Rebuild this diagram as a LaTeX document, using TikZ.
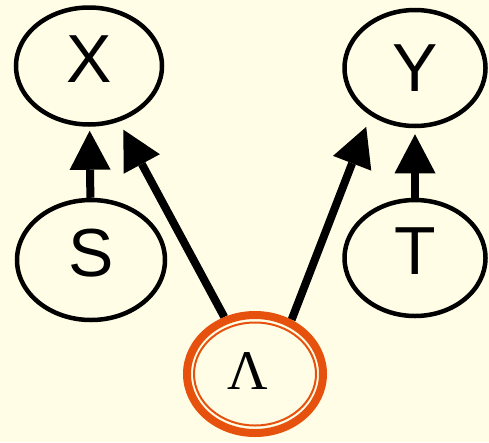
\documentclass[tikz,border=0pt]{standalone}
\usepackage{fontspec}
\setmainfont{Liberation Sans}
\newfontfamily\grfont{Liberation Serif}
\usetikzlibrary{shapes.geometric,arrows.meta}
\definecolor{bg}{RGB}{255,253,230}
\definecolor{ringc}{RGB}{230,82,14}
\pgfdeclarelayer{background}
\pgfsetlayers{background,main}
\begin{document}
\begin{tikzpicture}[x=1pt,y=-1pt,
  var/.style={ellipse, draw=black, line width=4.5pt, inner sep=0pt,
    font=\fontsize{68}{68}\selectfont, text depth=14pt},
  ringout/.style={ellipse, draw=ringc, line width=8pt, inner sep=0pt,
    minimum width=136pt, minimum height=118pt},
  ringin/.style={ellipse, draw=ringc, line width=2pt, inner sep=0pt,
    minimum width=122pt, minimum height=103pt,
    font=\grfont\fontsize{56}{56}\selectfont, text depth=5pt},
  arr/.style={line width=8pt, -{Triangle[length=39pt,width=41pt,line width=0pt]}},
]
\useasboundingbox (0,0) rectangle (489,442);
\node[var, minimum width=146pt, minimum height=117pt] (X) at (89,66) {X};
\node[var, minimum width=141pt, minimum height=116pt, text depth=0pt] (Y) at (415,68) {Y};
\node[var, minimum width=148pt, minimum height=120pt] (S) at (91,260) {S};
\node[var, minimum width=141pt, minimum height=116pt] (T) at (415,258) {T};
\node[ringout] (lamout) at (255,374) {};
\node[ringin] (lam) at (255,374) {\hspace*{-14pt}Λ};
\begin{pgfonlayer}{background}
  \fill[bg] (0,0) rectangle (489,442);
  \draw[arr, shorten >=4pt] (S) -- (X);
  \draw[arr, shorten >=6pt] (T) -- (Y);
  \draw[arr, shorten >=9pt] (lamout) -- (X);
  \draw[arr, shorten >=12pt] (lamout.56) -- (Y.227);
\end{pgfonlayer}
\end{tikzpicture}
\end{document}
